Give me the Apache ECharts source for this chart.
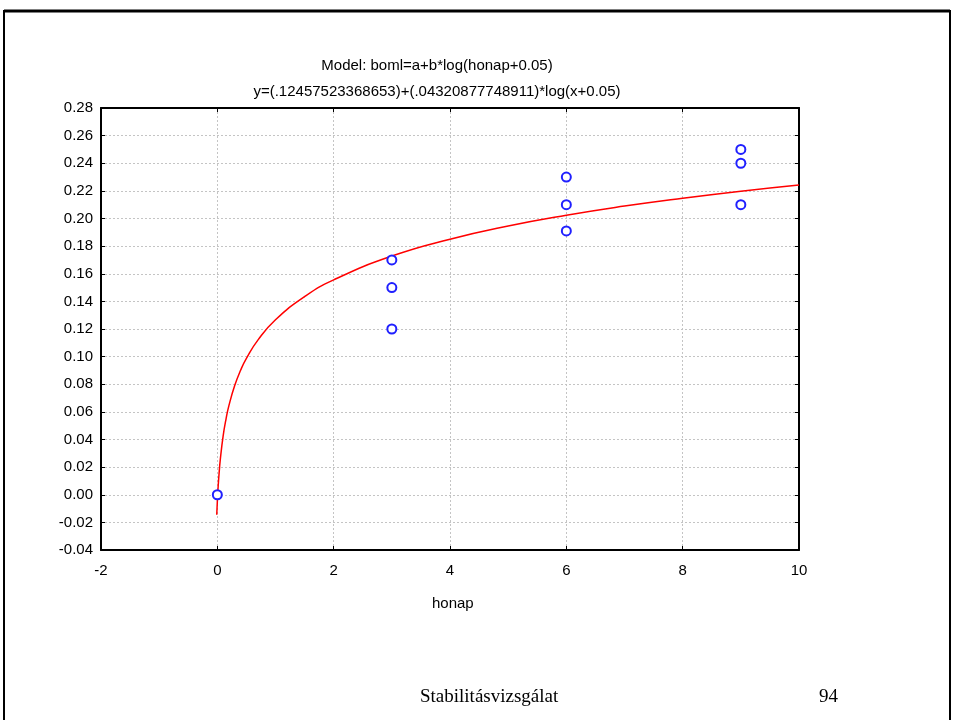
<!DOCTYPE html>
<html>
<head>
<meta charset="utf-8">
<title>boml - honap</title>
<script src="https://cdn.jsdelivr.net/npm/echarts@6/dist/echarts.min.js"></script>
<style>
  html, body { margin: 0; padding: 0; background: #fff; }
  #chart { width: 954px; height: 720px; }
</style>
</head>
<body>
<div id="chart"></div>
<script>
// mért pontok (honap, boml)
const pointX = [0, 3, 3, 3, 6, 6, 6, 9, 9, 9]
const pointY = [0.00, 0.17, 0.15, 0.12, 0.23, 0.21, 0.191, 0.25, 0.24, 0.21]

// illesztett görbe pontjai
const curveX = [-0.01, 0, 0.01, 0.02, 0.03, 0.05, 0.1, 0.15, 0.2, 0.3, 0.4, 0.5, 0.7, 1, 1.5, 2, 3, 4, 5, 6, 7, 8, 9, 10]
const curveY = [-0.0145, -0.0049, 0.0030, 0.0097, 0.0154, 0.0251, 0.0426, 0.0550, 0.0647, 0.0792, 0.0901, 0.0987, 0.1121, 0.1267, 0.1435, 0.1556, 0.1728, 0.1850, 0.1946, 0.2024, 0.2090, 0.2147, 0.2198, 0.2243]

const titleLines = [
  'Model: boml=a+b*log(honap+0.05)',
  'y=(.12457523368653)+(.04320877748911)*log(x+0.05)'
]
const xName = 'honap'
const footer = 'Stabilitásvizsgálat'
const pageNo = '94'

const sans = '"Liberation Sans", Arial, sans-serif'
const serif = '"Liberation Serif", "Times New Roman", serif'

const xRange = { min: -2, max: 10, interval: 2 }
const yRange = { min: -0.04, max: 0.28, interval: 0.02 }
const gridLine = { lineStyle: { color: '#c4c4c4', type: [2, 2], width: 1 } }

const chart = echarts.init(document.getElementById('chart'))

// keret-tengely (felső / jobb oldal): csak vonal és beforduló osztások
const frameAxis = (pos) => ({
  type: 'value',
  position: pos,
  axisLine: { show: true, onZero: false, lineStyle: { color: '#000', width: 2 } },
  axisTick: { show: true, inside: true, length: 4, lineStyle: { color: '#000' } },
  axisLabel: { show: false },
  splitLine: { show: false }
})

const option = {
  animation: false,
  textStyle: { fontFamily: sans },
  title: titleLines.map((t, i) => ({
    text: t,
    left: 432,
    top: 53 + i * 26,
    textAlign: 'center',
    textStyle: { fontFamily: sans, fontSize: 15, fontWeight: 'normal', color: '#000' }
  })),
  grid: { left: 101, right: 155, top: 108, bottom: 170 },
  xAxis: [
    {
      type: 'value',
      ...xRange,
      axisLine: { onZero: false, lineStyle: { color: '#000', width: 2 } },
      axisTick: { inside: true, length: 4, lineStyle: { color: '#000' } },
      axisLabel: { color: '#000', fontSize: 15, margin: 13, fontFamily: sans },
      splitLine: gridLine
    },
    { ...frameAxis('top'), ...xRange }
  ],
  yAxis: [
    {
      type: 'value',
      ...yRange,
      axisLine: { show: true, onZero: false, lineStyle: { color: '#000', width: 2 } },
      axisTick: { show: true, inside: true, length: 4, lineStyle: { color: '#000' } },
      axisLabel: {
        color: '#000', fontSize: 15, margin: 8, fontFamily: sans,
        formatter: v => v.toFixed(2)
      },
      splitLine: gridLine
    },
    { ...frameAxis('right'), ...yRange }
  ],
  series: [
    {
      type: 'line',
      data: curveX.map((x, i) => [x, curveY[i]]),
      smooth: true,
      showSymbol: false,
      lineStyle: { color: '#ff0000', width: 1.5 },
      z: 2
    },
    {
      type: 'scatter',
      data: pointX.map((x, i) => [x, pointY[i]]),
      symbol: 'emptyCircle',
      symbolSize: 9,
      itemStyle: { color: '#2020ff', borderWidth: 1, opacity: 1 },
      z: 3
    }
  ],
  graphic: [
    // keret a dia tetején és oldalain
    { type: 'line', shape: { x1: 4, y1: 11, x2: 950, y2: 11 }, style: { stroke: '#000', lineWidth: 3 } },
    { type: 'line', shape: { x1: 4, y1: 10, x2: 4, y2: 720 }, style: { stroke: '#000', lineWidth: 2 } },
    { type: 'line', shape: { x1: 950, y1: 10, x2: 950, y2: 720 }, style: { stroke: '#000', lineWidth: 2 } },
    {
      type: 'text', left: 432, top: 596,
      style: { text: xName, font: '15px ' + sans, fill: '#000', align: 'center' }
    },
    {
      type: 'text', left: 420, top: 688,
      style: { text: footer, font: '19px ' + serif, fill: '#000' }
    },
    {
      type: 'text', left: 819, top: 688,
      style: { text: pageNo, font: '19px ' + serif, fill: '#000' }
    }
  ]
}

chart.setOption(option)
</script>
</body>
</html>
